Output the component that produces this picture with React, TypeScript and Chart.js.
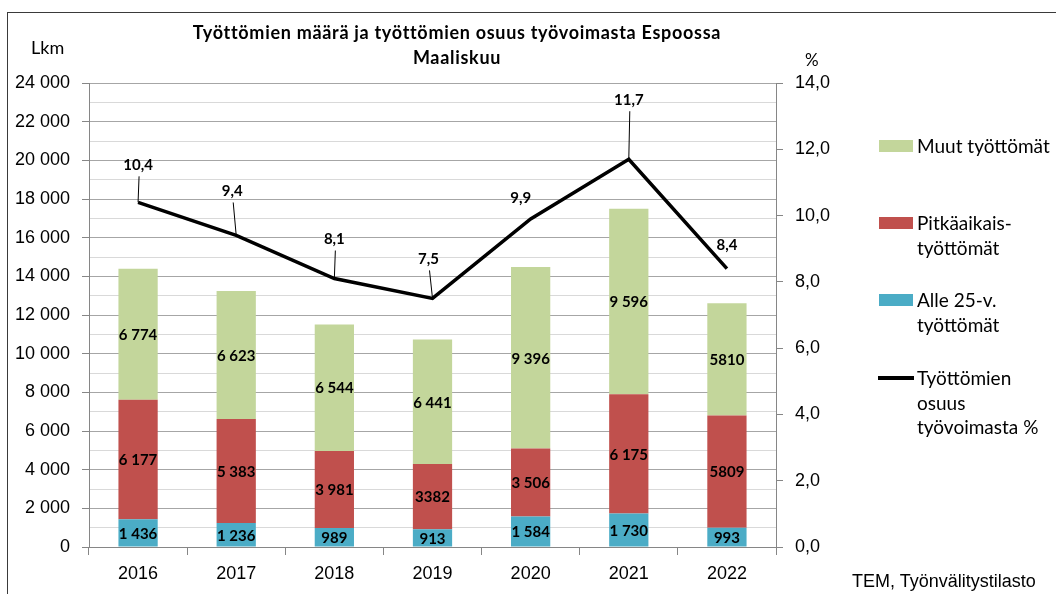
import React, { useEffect, useRef } from 'react';
import { Chart, registerables } from 'chart.js';

Chart.register(...registerables);

// ---- data ----
const years = ['2016', '2017', '2018', '2019', '2020', '2021', '2022'];
const alle25 = [1436, 1236, 989, 913, 1584, 1730, 993];
const pitkaaikais = [6177, 5383, 3981, 3382, 3506, 6175, 5809];
const muut = [6774, 6623, 6544, 6441, 9396, 9596, 5810];
const osuus = [10.4, 9.4, 8.1, 7.5, 9.9, 11.7, 8.4];
// labels printed without thousands separator in the original
const alle25Plain = [false, false, false, false, false, false, false];
const pitkaaikaisPlain = [false, false, false, true, false, false, true];
const muutPlain = [false, false, false, false, false, false, true];

const titleLines = ['Työttömien määrä ja työttömien osuus työvoimasta Espoossa', 'Maaliskuu'];
const legendItems = [
  { kind: 'box', color: '#c3d69b', lines: ['Muut työttömät'] },
  { kind: 'box', color: '#c0504d', lines: ['Pitkäaikais-', 'työttömät'] },
  { kind: 'box', color: '#4bacc6', lines: ['Alle 25-v.', 'työttömät'] },
  { kind: 'line', color: '#000000', lines: ['Työttömien', 'osuus', 'työvoimasta %'] },
];

// layout of the line's value labels (offset from point, leader line)
const lineLabelOffsets = [[0, -37], [-4, -44], [0, -39], [-4, -39], [-10, -21], [0, -59], [0, -23]];
const lineLabelLeaders = [true, true, true, true, false, true, false];

const fmtThousands = (v: number) => String(v).replace(/\B(?=(\d{3})+(?!\d))/g, ' ');
const fmtDec = (v: number) => v.toFixed(1).replace('.', ',');

const LABEL_FONT = 'bold 15px Lato, "Liberation Sans", sans-serif';

const labelPlugin = {
  id: 'valueLabels',
  afterDatasetsDraw(chart: any) {
    const ctx = chart.ctx;
    ctx.save();
    ctx.font = LABEL_FONT;
    ctx.fillStyle = '#000';
    ctx.textAlign = 'center';
    ctx.textBaseline = 'middle';
    chart.data.datasets.forEach((ds: any, di: number) => {
      const meta = chart.getDatasetMeta(di);
      if (ds.type === 'line') return;
      meta.data.forEach((el: any, i: number) => {
        const v = ds.data[i];
        const txt = ds.plain[i] ? String(v) : fmtThousands(v);
        const cy = (el.y + el.base) / 2;
        ctx.fillText(txt, el.x, cy + 1);
      });
    });
    // line labels
    chart.data.datasets.forEach((ds: any, di: number) => {
      if (ds.type !== 'line') return;
      const meta = chart.getDatasetMeta(di);
      meta.data.forEach((el: any, i: number) => {
        const [dx, dy] = lineLabelOffsets[i];
        const lx = el.x + dx;
        const ly = el.y + dy;
        if (lineLabelLeaders[i]) {
          ctx.strokeStyle = '#000';
          ctx.lineWidth = 1;
          ctx.beginPath();
          ctx.moveTo(lx + 1, ly + 11);
          ctx.lineTo(el.x, el.y);
          ctx.stroke();
        }
        ctx.fillText(fmtDec(ds.data[i]), lx, ly);
      });
    });
    ctx.restore();
  },
};

export default function App() {
  const ref = useRef<HTMLCanvasElement | null>(null);

  useEffect(() => {
    document.body.style.margin = '0';
    const canvas = ref.current!;
    const chart = new Chart(canvas, {
      type: 'bar',
      data: {
        labels: years,
        datasets: [
          {
            type: 'line',
            label: 'Työttömien osuus työvoimasta %',
            data: osuus,
            yAxisID: 'y1',
            borderColor: '#000',
            backgroundColor: '#000',
            borderWidth: 3.5,
            pointRadius: 0,
            tension: 0,
            order: 0,
          } as any,
          {
            label: 'Alle 25-v. työttömät',
            data: alle25,
            plain: alle25Plain,
            backgroundColor: '#4bacc6',
            yAxisID: 'y',
            order: 1,
            barPercentage: 0.5,
            categoryPercentage: 0.8,
          } as any,
          {
            label: 'Pitkäaikais-työttömät',
            data: pitkaaikais,
            plain: pitkaaikaisPlain,
            backgroundColor: '#c0504d',
            yAxisID: 'y',
            order: 1,
            barPercentage: 0.5,
            categoryPercentage: 0.8,
          } as any,
          {
            label: 'Muut työttömät',
            data: muut,
            plain: muutPlain,
            backgroundColor: '#c3d69b',
            yAxisID: 'y',
            order: 1,
            barPercentage: 0.5,
            categoryPercentage: 0.8,
          } as any,
        ],
      },
      options: {
        responsive: false,
        animation: false,
        devicePixelRatio: 1,
        layout: { padding: { left: 0, right: 200, top: 83, bottom: 0 } },
        plugins: {
          legend: { display: false },
          title: { display: false },
          tooltip: { enabled: false },
        },
        scales: {
          x: {
            stacked: true,
            grid: {
              offset: true,
              drawOnChartArea: false,
              drawTicks: true,
              tickLength: 8,
              color: '#868686',
            },
            border: { color: '#868686' },
            ticks: {
              color: '#000',
              font: { family: '"Liberation Sans", Arial, sans-serif', size: 18 },
              padding: 8,
            },
            afterFit: (s: any) => { s.height = 47; },
          },
          y: {
            stacked: true,
            position: 'left',
            min: 0,
            max: 24000,
            ticks: {
              stepSize: 1000,
              autoSkip: false,
              color: '#000',
              font: { family: '"Liberation Sans", Arial, sans-serif', size: 18 },
              padding: 12,
              callback: (v: any) => (Number(v) % 2000 === 0 ? fmtThousands(Number(v)) : ''),
            },
            grid: {
              color: (c: any) => (c.tick && c.tick.value % 2000 === 0 ? '#a6a6a6' : '#d9d9d9'),
              tickColor: (c: any) => (c.tick && c.tick.value % 2000 === 0 ? '#868686' : 'rgba(0,0,0,0)'),
              tickLength: 7,
              lineWidth: 1,
            },
            border: { color: '#868686' },
            afterFit: (s: any) => { s.width = 89; },
          },
          y1: {
            position: 'right',
            min: 0,
            max: 14,
            ticks: {
              stepSize: 2,
              color: '#000',
              font: { family: '"Liberation Sans", Arial, sans-serif', size: 18 },
              padding: 12,
              callback: (v: any) => fmtDec(Number(v)),
            },
            grid: {
              drawOnChartArea: false,
              tickLength: 7,
              color: '#868686',
            },
            border: { color: '#868686' },
            afterFit: (s: any) => { s.width = 80; },
          },
        },
      } as any,
      plugins: [labelPlugin],
    });
    return () => chart.destroy();
  }, []);

  const calibri = 'Lato, "Open Sans", "Liberation Sans", sans-serif';

  return (
    <div style={{ position: 'relative', width: 1056, height: 594, overflow: 'hidden', background: '#fff' }}>
      <div
        style={{
          position: 'absolute',
          left: 7,
          top: 12,
          width: 1200,
          height: 800,
          border: '1px solid #3a3a3a',
        }}
      />
      <canvas ref={ref} width={1056} height={594} style={{ position: 'absolute', left: 0, top: 0 }} />
      {titleLines.map((t, i) => (
        <div
          key={t}
          style={{
            position: 'absolute',
            left: 107,
            width: 700,
            top: 20 + i * 25,
            textAlign: 'center',
            fontFamily: calibri,
            fontWeight: 'bold',
            fontSize: 18,
            letterSpacing: '0.7px',
            lineHeight: '25px',
            whiteSpace: 'nowrap',
            color: '#000',
          }}
        >
          {t}
        </div>
      ))}
      <div style={{ position: 'absolute', left: 31, top: 35, fontFamily: calibri, fontSize: 18, lineHeight: '24px' }}>Lkm</div>
      <div style={{ position: 'absolute', left: 805, top: 48, fontFamily: calibri, fontSize: 17, lineHeight: '24px' }}>%</div>
      {legendItems.map((it, i) => {
        const tops = [146, 223, 300, 378];
        const cy = tops[i];
        return (
          <div key={i}>
            {it.kind === 'box' ? (
              <div style={{ position: 'absolute', left: 879, top: cy - 6, width: 34, height: 12, background: it.color }} />
            ) : (
              <div style={{ position: 'absolute', left: 878, top: cy - 2, width: 36, height: 4, background: it.color }} />
            )}
            {it.lines.map((l, j) => (
              <div
                key={j}
                style={{
                  position: 'absolute',
                  left: 917,
                  top: cy - 12 + j * 24.5,
                  fontFamily: calibri,
                  fontSize: 19,
                  lineHeight: '24px',
                  whiteSpace: 'nowrap',
                  color: '#000',
                }}
              >
                {l}
              </div>
            ))}
          </div>
        );
      })}
      <div
        style={{
          position: 'absolute',
          left: 852,
          top: 569,
          fontFamily: '"Liberation Sans", Arial, sans-serif',
          fontSize: 18,
          lineHeight: '24px',
          whiteSpace: 'nowrap',
          color: '#000',
        }}
      >
        TEM, Työnvälitystilasto
      </div>
    </div>
  );
}
